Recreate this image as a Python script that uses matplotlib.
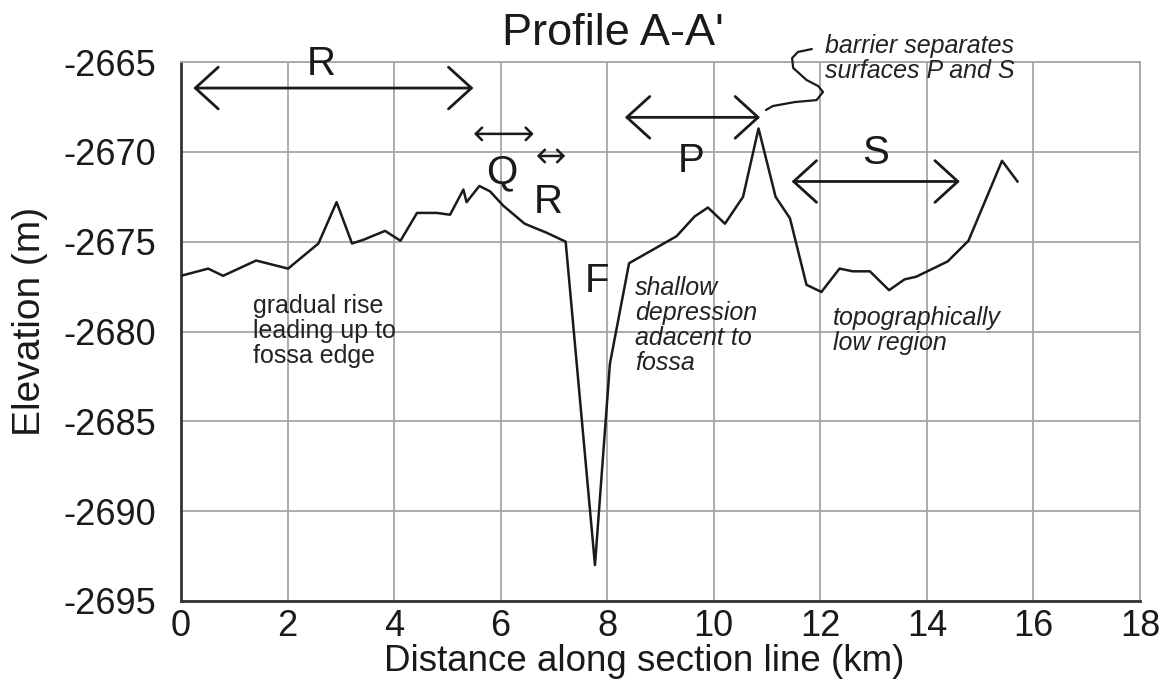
import matplotlib
matplotlib.use("Agg")
import matplotlib.pyplot as plt

plt.rcParams['font.family'] = ['Liberation Sans', 'DejaVu Sans']
plt.rcParams['axes.unicode_minus'] = False

# ---- data: elevation profile ----
distance_km = [0.0, 0.51, 0.79, 1.41, 2.01, 2.58, 2.92, 3.21, 3.42, 3.83, 4.12,
               4.43, 4.80, 5.05, 5.30, 5.36, 5.60, 5.80, 6.05, 6.45, 6.86, 7.22,
               7.77, 8.05, 8.41, 9.30, 9.64, 9.89, 10.21, 10.55, 10.84, 11.16,
               11.43, 11.74, 12.02, 12.36, 12.61, 12.93, 13.29, 13.58, 13.80,
               14.39, 14.78, 15.41, 15.70]
elevation_m = [-2676.9, -2676.5, -2676.9, -2676.05, -2676.5, -2675.1, -2672.8,
               -2675.1, -2674.9, -2674.4, -2674.95, -2673.4, -2673.4, -2673.5,
               -2672.1, -2672.8, -2671.9, -2672.2, -2673.0, -2674.0, -2674.5,
               -2675.0, -2693.0, -2681.8, -2676.2, -2674.7, -2673.6, -2673.1,
               -2674.0, -2672.5, -2668.7, -2672.5, -2673.7, -2677.4, -2677.8,
               -2676.5, -2676.65, -2676.65, -2677.7, -2677.1, -2676.95, -2676.1,
               -2674.95, -2670.5, -2671.65]

x_ticks = [0, 2, 4, 6, 8, 10, 12, 14, 16, 18]
y_ticks = [-2695, -2690, -2685, -2680, -2675, -2670, -2665]

# ---- annotations: surface extents (start, end, elevation) ----
extent_labels = ['R', 'Q', 'R', 'P', 'S']
extent_start = [0.23, 5.50, 6.68, 8.33, 11.46]
extent_end = [5.49, 6.62, 7.21, 10.87, 14.62]
extent_elev = [-2666.45, -2669.0, -2670.23, -2668.08, -2671.65]
label_x = [2.64, 6.02, 6.89, 9.57, 13.03]
label_y = [-2665.72, -2671.74, -2673.41, -2671.1, -2670.68]
fossa_label = 'F'
fossa_xy = (7.81, -2677.79)

# ---- notes ----
note_gradual = ['gradual rise', 'leading up to', 'fossa edge']
note_shallow = ['shallow', 'depression', 'adacent to', 'fossa']
note_low = ['topographically', 'low region']
note_barrier = ['barrier separates', 'surfaces P and S']

# squiggle leader line from barrier note to the peak
squiggle_x = [10.98, 11.11, 11.52, 11.93, 12.05, 11.96, 11.74, 11.49, 11.47, 11.58, 11.84]
squiggle_y = [-2667.67, -2667.45, -2667.23, -2667.12, -2666.67, -2666.34, -2666.0,
              -2665.33, -2664.78, -2664.44, -2664.28]

fig = plt.figure(figsize=(11.64, 6.87), dpi=100)
ax = fig.add_axes([181 / 1164, 1 - 601 / 687, 959 / 1164, 539 / 687])

ax.plot(distance_km, elevation_m, color='#1a1a1a', lw=1.8, zorder=3)

ax.set_xlim(0, 18)
ax.set_ylim(-2695, -2665)
ax.set_xticks(x_ticks)
ax.set_yticks(y_ticks)
ax.tick_params(axis='both', length=0, labelsize=26, colors='#1a1a1a')
ax.tick_params(axis='x', pad=6)
ax.tick_params(axis='y', pad=18)
ax.grid(True, color='#a6a6a6', lw=1.3)
ax.set_axisbelow(True)
for s in ['top', 'right']:
    ax.spines[s].set_color('#a6a6a6')
    ax.spines[s].set_linewidth(1.3)
for s in ['left', 'bottom']:
    ax.spines[s].set_color('#333333')
    ax.spines[s].set_linewidth(2.0)

ax.set_xlabel('Distance along section line (km)', fontsize=26.5, color='#1a1a1a', va='center')
ax.xaxis.set_label_coords(0.483, -0.113)
ax.set_ylabel('Elevation (m)', fontsize=28, color='#1a1a1a', va='center')
ax.yaxis.set_label_coords(-0.157, 0.519)

ax.text(0.4505, 1.0315, "Profile A-A'", transform=ax.transAxes, fontsize=32.5,
        ha='center', va='baseline', color='#1a1a1a')

# extent arrows
for i, lab in enumerate(extent_labels):
    big = (extent_end[i] - extent_start[i]) > 2
    if big:
        props = dict(arrowstyle='<->,head_length=16.5,head_width=15', lw=2.0,
                     color='#1a1a1a', shrinkA=0, shrinkB=0, mutation_scale=1)
    else:
        props = dict(arrowstyle='<->,head_length=4.5,head_width=4.5', lw=1.8,
                     color='#1a1a1a', shrinkA=0, shrinkB=0, mutation_scale=1)
    ax.annotate('', xy=(extent_end[i], extent_elev[i]),
                xytext=(extent_start[i], extent_elev[i]),
                arrowprops=props, annotation_clip=False)
    ax.text(label_x[i], label_y[i], lab, fontsize=29, ha='center', va='baseline',
            color='#1a1a1a', clip_on=False)
ax.text(fossa_xy[0], fossa_xy[1], fossa_label, fontsize=29, ha='center',
        va='baseline', color='#1a1a1a')

# notes, line by line (baseline spacing ~25 px = 1.39 m)
def note(lines, x, y0, italic):
    for k, t in enumerate(lines):
        ax.text(x, y0 - k * 1.392, t, fontsize=18, ha='left', va='baseline',
                style='italic' if italic else 'normal', color='#222222', clip_on=False)

note(note_gradual, 1.35, -2678.98, False)
note(note_shallow, 8.52, -2677.97, True)
note(note_low, 12.24, -2679.64, True)
note(note_barrier, 12.09, -2664.5, True)

ax.plot(squiggle_x, squiggle_y, color='#1a1a1a', lw=1.6, clip_on=False, zorder=3,
        solid_capstyle='round', solid_joinstyle='round')

fig.savefig('out.png', dpi=100)
